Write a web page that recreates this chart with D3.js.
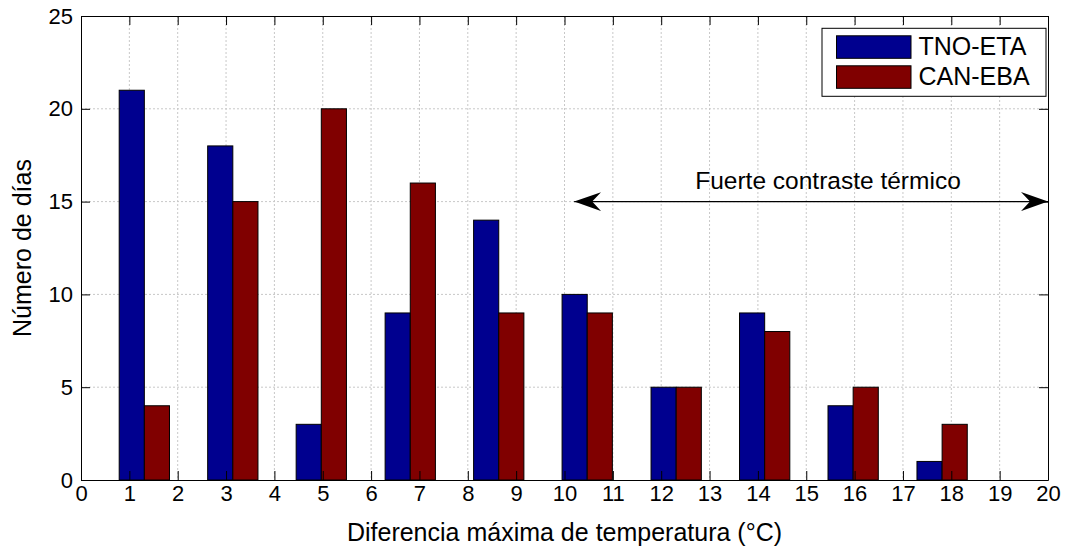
<!DOCTYPE html>
<html>
<head>
<meta charset="utf-8">
<script src="https://cdn.jsdelivr.net/npm/d3@7"></script>
<style>
  body { margin: 0; background: #fff; }
  text { font-family: "Liberation Sans", Arial, sans-serif; fill: #000; }
</style>
</head>
<body>
<div id="chart"></div>
<script>
// group centres (°C) and counts
var centres = [1.31, 3.14, 4.97, 6.81, 8.64, 10.47, 12.31, 14.14, 15.97, 17.81];
var tnoEta  = [21, 18, 3, 9, 14, 10, 5, 9, 4, 1];
var canEba  = [4, 15, 20, 16, 9, 9, 5, 8, 5, 3];
var seriesNames = ["TNO-ETA", "CAN-EBA"];
var seriesColors = ["#00008f", "#800000"];
var xTicks = d3.range(0, 21, 1);
var yTicks = [0, 5, 10, 15, 20, 25];
var barWidth = 0.52;   // in x units
var arrowFrom = 10.2, arrowTo = 20, arrowY = 15;

var margin = {top: 16, right: 19, bottom: 68, left: 81},
    width = 1067 - margin.left - margin.right,
    height = 548 - margin.top - margin.bottom;

var svg = d3.select("#chart").append("svg")
    .attr("width", 1067)
    .attr("height", 548)
  .append("g")
    .attr("transform", "translate(" + margin.left + "," + margin.top + ")");

var x = d3.scaleLinear().domain([0, 20]).range([0, width]),
    y = d3.scaleLinear().domain([0, 25]).range([height, 0]);

// grid
svg.append("g").selectAll("line")
  .data(xTicks.slice(1, -1))
  .enter().append("line")
    .attr("x1", function(d) { return x(d); })
    .attr("x2", function(d) { return x(d); })
    .attr("y1", 0).attr("y2", height)
    .attr("stroke", "#c8c8c8").attr("stroke-dasharray", "2,2");
svg.append("g").selectAll("line")
  .data(yTicks.slice(1, -1))
  .enter().append("line")
    .attr("y1", function(d) { return y(d); })
    .attr("y2", function(d) { return y(d); })
    .attr("x1", 0).attr("x2", width)
    .attr("stroke", "#c8c8c8").attr("stroke-dasharray", "2,2");

// bars
var data = centres.map(function(c, i) { return {c: c, v: [tnoEta[i], canEba[i]]}; });
var groups = svg.append("g").selectAll("g")
  .data(data)
  .enter().append("g");
groups.selectAll("rect")
  .data(function(d) { return d.v.map(function(v, k) { return {c: d.c, v: v, k: k}; }); })
  .enter().append("rect")
    .attr("x", function(d) { return x(d.c - barWidth + d.k * barWidth); })
    .attr("width", x(barWidth) - x(0))
    .attr("y", function(d) { return y(d.v); })
    .attr("height", function(d) { return y(0) - y(d.v); })
    .attr("fill", function(d) { return seriesColors[d.k]; })
    .attr("stroke", "#000")
    .attr("stroke-width", 1);

// axes (ticks inward on all sides)
var fs = "22px";
var xb = svg.append("g").attr("transform", "translate(0," + height + ")")
  .call(d3.axisBottom(x).tickValues(xTicks).tickFormat(d3.format("d")).tickSizeInner(-9).tickSizeOuter(0).tickPadding(5));
var yl = svg.append("g")
  .call(d3.axisLeft(y).tickValues(yTicks).tickSizeInner(-9).tickSizeOuter(0).tickPadding(8));
var xt = svg.append("g")
  .call(d3.axisTop(x).tickValues(xTicks).tickFormat("").tickSizeInner(-9).tickSizeOuter(0));
var yr = svg.append("g").attr("transform", "translate(" + width + ",0)")
  .call(d3.axisRight(y).tickValues(yTicks).tickFormat("").tickSizeInner(-9).tickSizeOuter(0));
[xb, yl, xt, yr].forEach(function(a) {
  a.selectAll("path, line").attr("stroke", "#000");
  a.selectAll("text").style("font-size", fs).style("font-family", "Liberation Sans, Arial, sans-serif");
});

// arrow annotation
var defs = svg.append("defs");
defs.append("marker").attr("id", "ah").attr("viewBox", "0 0 27 19")
  .attr("refX", 27).attr("refY", 9.5).attr("markerWidth", 27).attr("markerHeight", 19)
  .attr("markerUnits", "userSpaceOnUse").attr("orient", "auto-start-reverse")
  .append("path").attr("d", "M0,0 L27,9.5 L0,19 L9,9.5 Z").attr("fill", "#000");
svg.append("line")
  .attr("x1", x(arrowFrom)).attr("x2", x(arrowTo))
  .attr("y1", y(arrowY)).attr("y2", y(arrowY))
  .attr("stroke", "#000").attr("stroke-width", 1.3)
  .attr("marker-start", "url(#ah)").attr("marker-end", "url(#ah)");
svg.append("text")
  .attr("x", x(15.45)).attr("y", y(arrowY) - 13)
  .attr("text-anchor", "middle").style("font-size", "24.5px")
  .text("Fuerte contraste térmico");

// legend
var lg = svg.append("g").attr("transform", "translate(" + (x(20) - 226) + ",12.3)");
lg.append("rect").attr("width", 224).attr("height", 68)
  .attr("fill", "#fff").attr("stroke", "#000");
seriesNames.forEach(function(n, i) {
  lg.append("rect").attr("x", 14.5).attr("y", 7.5 + i * 30).attr("width", 74.5).attr("height", 22.5)
    .attr("fill", seriesColors[i]).attr("stroke", "#000");
  lg.append("text").attr("x", 96.5).attr("y", 26.7 + i * 30).style("font-size", "25px").text(n);
});

// axis labels
svg.append("text")
  .attr("x", width / 2).attr("y", 541 - margin.top)
  .attr("text-anchor", "middle").style("font-size", "25px")
  .text("Diferencia máxima de temperatura (°C)");
svg.append("text")
  .attr("transform", "translate(" + (31 - margin.left) + "," + (height / 2) + ") rotate(-90)")
  .attr("text-anchor", "middle").style("font-size", "25px")
  .text("Número de días");
</script>
</body>
</html>
